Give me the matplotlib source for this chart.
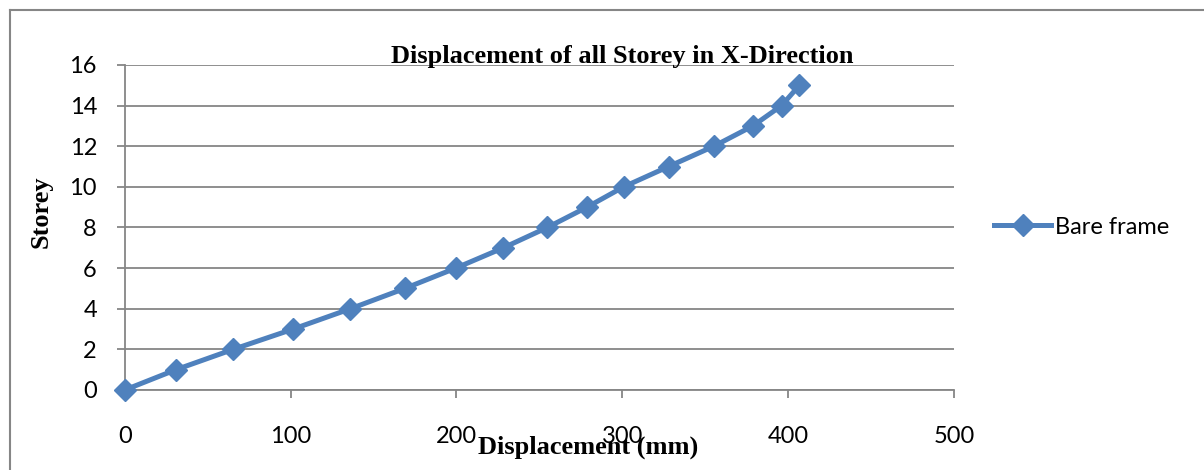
import matplotlib
matplotlib.use("Agg")
import matplotlib.pyplot as plt
from matplotlib.lines import Line2D

# Storey drift data for the bare frame model
displacement_mm = [0, 30.9, 65.4, 101.6, 136.1, 168.9, 199.6, 228.3, 254.8,
                   278.7, 300.8, 327.9, 355.2, 378.7, 396.0, 406.8]
storey = list(range(0, 16))
series_label = "Bare frame"
x_ticks = [0, 100, 200, 300, 400, 500]
y_ticks = [0, 2, 4, 6, 8, 10, 12, 14, 16]

W, H, DPI = 1204, 470, 100
blue = "#4F81BD"
grid_grey = "#868686"

fig = plt.figure(figsize=(W / DPI, H / DPI), dpi=DPI)
fig.patch.set_facecolor("white")

# outer chart frame (top and left edges visible)
fig.add_artist(Line2D([10 / W, 10 / W], [0, 1 - 10 / H], transform=fig.transFigure,
                      color=grid_grey, lw=1.5))
fig.add_artist(Line2D([10 / W, 1], [1 - 10 / H, 1 - 10 / H], transform=fig.transFigure,
                      color=grid_grey, lw=1.5))

left, right = 124.7, 954
bottom, top = 390, 65
ax = fig.add_axes([left / W, 1 - bottom / H, (right - left) / W, (bottom - top) / H])

ax.plot(displacement_mm, storey, color=blue, lw=3.6, marker="D", markersize=11.5,
        markeredgecolor=blue, clip_on=False, zorder=3, label=series_label)

ax.set_xlim(0, 500)
ax.set_ylim(0, 16)
ax.set_xticks(x_ticks)
ax.set_yticks(y_ticks)

ax.yaxis.grid(True, color=grid_grey, lw=1.3)
ax.set_axisbelow(True)
for side in ("top", "right"):
    ax.spines[side].set_visible(False)
for side in ("left", "bottom"):
    ax.spines[side].set_color(grid_grey)
    ax.spines[side].set_linewidth(1.3)

ax.tick_params(axis="x", direction="out", length=6, width=1.3, color=grid_grey, pad=20)
ax.tick_params(axis="y", direction="out", length=6, width=1.3, color=grid_grey, pad=14)
for lab in ax.get_xticklabels() + ax.get_yticklabels():
    lab.set_fontfamily("Lato")
    lab.set_fontsize(17)

serif = "Liberation Serif"
fig.text(622 / W, 1 - 57 / H, "Displacement of all Storey in X-Direction",
         ha="center", va="center", fontfamily=serif, fontweight="bold", fontsize=19)
fig.text(588 / W, 1 - 447 / H, "Displacement (mm)", ha="center", va="center",
         fontfamily=serif, fontweight="bold", fontsize=19)
fig.text(41 / W, 1 - 212 / H, "Storey", ha="center", va="center", rotation=90,
         fontfamily=serif, fontweight="bold", fontsize=19)

leg = fig.legend(loc="center left", bbox_to_anchor=(985 / W, 1 - 227 / H),
                 frameon=False, prop={"family": "Lato", "size": 17},
                 handlelength=2.4, handletextpad=0.15, borderaxespad=0)

fig.savefig("out.png", dpi=DPI)
